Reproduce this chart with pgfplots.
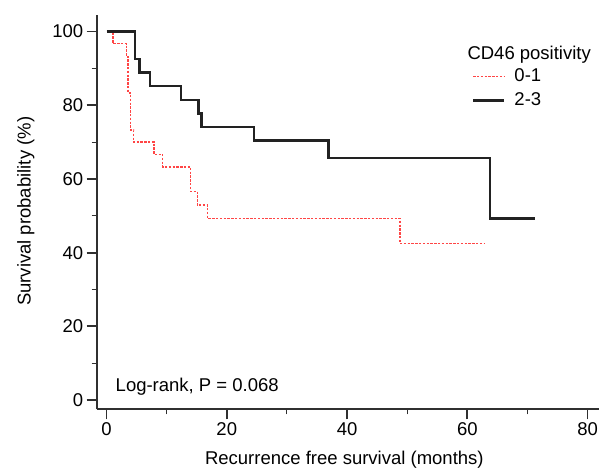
\documentclass[border=0pt]{standalone}
\usepackage{fontspec}
\setmainfont{Liberation Sans}
\usepackage{pgfplots}
\pgfplotsset{compat=1.18}

\definecolor{kmblack}{HTML}{222222}
\definecolor{kmred}{HTML}{FF4545}
\definecolor{spine}{HTML}{303030}

\begin{document}
\begin{tikzpicture}
\begin{axis}[
    at={(0,0)}, anchor=south west,
    scale only axis,
    width=502.3pt, height=394.3pt,
    xmin=-1.63, xmax=81.9,
    ymin=-2.5, ymax=104.5,
    axis lines=left,
    axis line style={-, line width=1.8pt, spine},
    xtick={0,20,40,60,80},
    ytick={0,20,40,60,80,100},
    minor x tick num=1,
    minor y tick num=1,
    tick align=outside,
    major tick length=10pt,
    minor tick length=5pt,
    every tick/.style={spine, line width=1.8pt},
    every minor tick/.style={spine, line width=1pt},
    font=\fontsize{18.5}{22}\selectfont,
    /pgf/number format/assume math mode=true,
    xlabel={Recurrence free survival (months)},
    ylabel={Survival probability (\%)},
    xlabel style={at={([yshift=-55.4pt]axis description cs:0.493,0)}, anchor=base},
    ylabel style={at={([xshift=-66pt]axis description cs:0,0.502)}, anchor=base},
    legend style={draw=none, fill=none, inner sep=0pt, outer sep=0pt,
        at={(axis cs:60.78,90.2)}, anchor=north west,
        nodes={inner sep=0pt, anchor=west, text height=14pt, text depth=4pt},
        column sep=9pt, row sep=6pt,
        font=\fontsize{18.5}{22}\selectfont},
    legend cell align=left,
    legend image code/.code={\draw[#1] (0pt,0pt) -- (31pt,0pt);},
]
% CD46 positivity 0-1
\addplot[const plot, kmred, line width=1.4pt, dash pattern=on 2.4pt off 1.4pt] coordinates {
    (0,100) (1.1,96.7) (3.35,93.3) (3.6,83.3) (4.0,73.3) (4.5,70.0)
    (7.9,66.7) (9.35,63.3) (14.0,56.6) (15.1,52.9) (16.8,49.3)
    (48.8,42.5) (62.9,42.5)
};
\addlegendentry{0-1}
% CD46 positivity 2-3
\addplot[const plot, kmblack, line width=2.5pt] coordinates {
    (0,100) (4.7,92.6) (5.45,88.9) (7.2,85.2) (12.4,81.5) (15.3,77.8)
    (15.8,74.1) (24.5,70.4) (36.9,65.7) (63.8,49.3) (71.2,49.3)
};
\addlegendentry{2-3}

\node[anchor=base west, inner sep=0pt] at (axis cs:60.0,92.3) {CD46 positivity};
\node[anchor=base west, inner sep=0pt] at (axis cs:1.5,2.2) {Log-rank, P = 0.068};
\end{axis}
\pgfresetboundingbox
\path[use as bounding box] (-96.7pt,-59.7pt) rectangle (502.3pt,409.3pt);
\end{tikzpicture}
\end{document}
